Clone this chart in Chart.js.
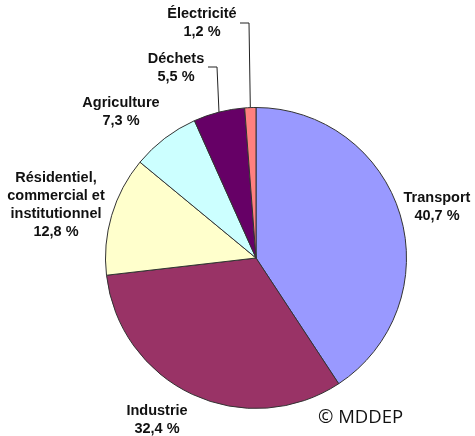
<!DOCTYPE html>
<html>
<head>
<meta charset="utf-8">
<script src="https://cdn.jsdelivr.net/npm/chart.js@4"></script>
<style>
  html, body { margin: 0; padding: 0; background: #fff; }
  #wrap { width: 475px; height: 436px; position: relative; }
</style>
</head>
<body>
<div id="wrap"><canvas id="c" width="475" height="436"></canvas></div>
<script>
const sectors = ['Transport', 'Industrie', 'Résidentiel, commercial et institutionnel', 'Agriculture', 'Déchets', 'Électricité'];
const shares = [40.7, 32.4, 12.8, 7.3, 5.5, 1.2];
const colors = ['#9999ff', '#993366', '#ffffcc', '#ccffff', '#660066', '#ff8080'];

// label placement (text lines, centre x, first baseline y, optional leader elbow)
const labelPos = [
  { lines: ['Transport'], x: 437, y: 202 },
  { lines: ['Industrie'], x: 157, y: 415 },
  { lines: ['Résidentiel,', 'commercial et', 'institutionnel'], x: 56, y: 182 },
  { lines: ['Agriculture'], x: 121, y: 107 },
  { lines: ['Déchets'], x: 176, y: 63, leader: { x: 217, y: 67, end: 208 } },
  { lines: ['Électricité'], x: 202, y: 18, leader: { x: 249, y: 23, end: 240 } }
];

const pieLabels = {
  id: 'pieLabels',
  afterDatasetsDraw(chart) {
    const ctx = chart.ctx;
    const arcs = chart.getDatasetMeta(0).data;
    ctx.save();
    ctx.fillStyle = '#111';
    ctx.font = 'bold 14.5px "Liberation Sans", Arial, sans-serif';
    ctx.textAlign = 'center';
    labelPos.forEach((p, i) => {
      const lines = p.lines.concat([shares[i].toFixed(1).replace('.', ',') + ' %']);
      lines.forEach((t, k) => ctx.fillText(t, p.x, p.y + k * 18));
      if (p.leader) {
        const a = arcs[i];
        const mid = (a.startAngle + a.endAngle) / 2;
        const sx = a.x + Math.cos(mid) * a.outerRadius;
        const sy = a.y + Math.sin(mid) * a.outerRadius;
        ctx.strokeStyle = '#222';
        ctx.lineWidth = 1;
        ctx.beginPath();
        ctx.moveTo(sx, sy);
        ctx.lineTo(p.leader.x, p.leader.y);
        ctx.lineTo(p.leader.end, p.leader.y);
        ctx.stroke();
      }
    });
    ctx.font = '18.5px "Open Sans", "Liberation Sans", sans-serif';
    ctx.textAlign = 'left';
    ctx.fillText('© MDDEP', 318, 423);
    ctx.restore();
  }
};

new Chart(document.getElementById('c'), {
  type: 'pie',
  data: {
    labels: sectors,
    datasets: [{
      data: shares,
      backgroundColor: colors,
      borderColor: '#333',
      borderWidth: 1
    }]
  },
  options: {
    responsive: false, animation: false,
    layout: { padding: { left: 105, right: 68, top: 107, bottom: 27 } },
    plugins: { legend: { display: false }, tooltip: { enabled: false } }
  },
  plugins: [pieLabels]
});
</script>
</body>
</html>
